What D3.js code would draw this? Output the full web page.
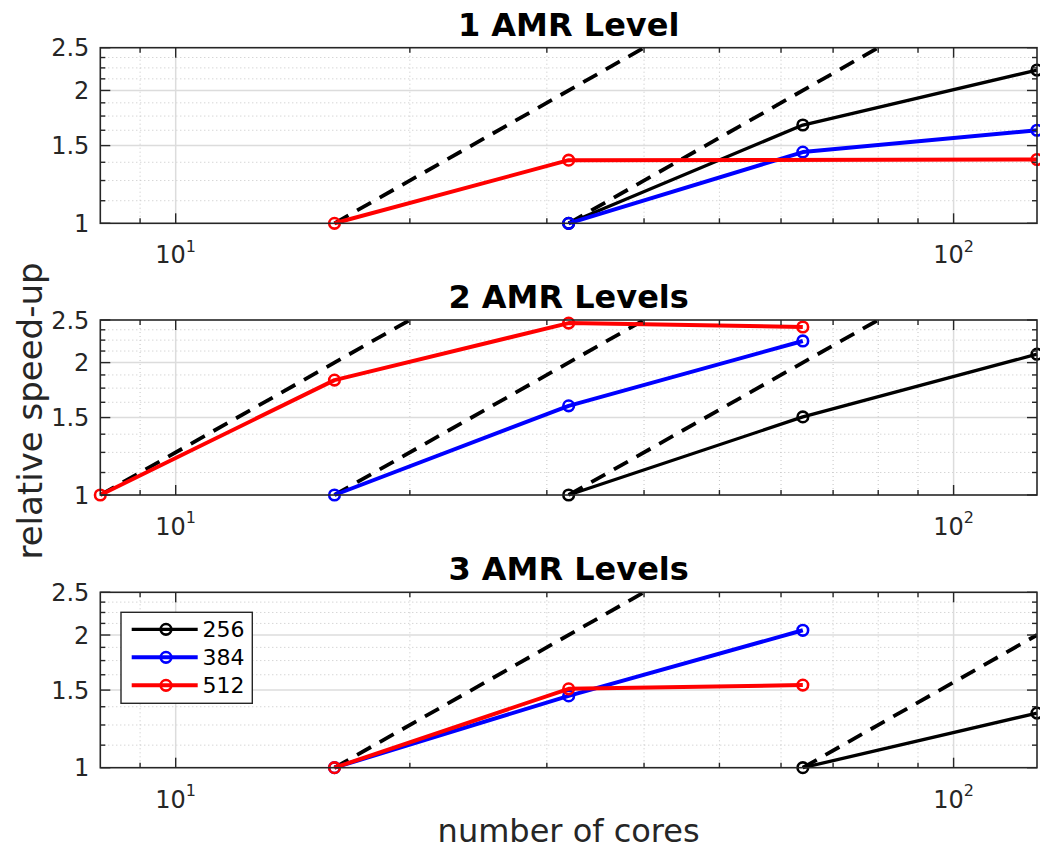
<!DOCTYPE html>
<html>
<head>
<meta charset="utf-8">
<script src="https://cdn.jsdelivr.net/npm/d3@7"></script>
<style>
  html, body { margin: 0; padding: 0; background: #fff; }
  svg { display: block; font-family: "DejaVu Sans", sans-serif; }
</style>
</head>
<body>
<svg id="chart" width="1040" height="850"></svg>
<script>
// Relative speed-up vs. number of cores, one panel per AMR level count
const panelTitles = ["1 AMR Level", "2 AMR Levels", "3 AMR Levels"];
const seriesNames = ["256", "384", "512"];
const seriesColors = ["#000000", "#0000ff", "#ff0000"];

// cores / speed-up per series, per panel
const cores1 = [[32, 64, 128], [32, 64, 128], [16, 32, 128]];
const speedup1 = [[1, 1.67, 2.225], [1, 1.45, 1.625], [1, 1.39, 1.395]];

const cores2 = [[32, 64, 128], [16, 32, 64], [8, 16, 32, 64]];
const speedup2 = [[1, 1.505, 2.09], [1, 1.595, 2.24], [1, 1.825, 2.46, 2.41]];

const cores3 = [[64, 128], [16, 32, 64], [16, 32, 64]];
const speedup3 = [[1, 1.33], [1, 1.455, 2.05], [1, 1.51, 1.54]];

// ideal (linear) speed-up reference lines: [cores], [speed-up]
const idealCores1 = [[16, 40], [32, 80]];
const idealSpeedup1 = [[1, 2.5], [1, 2.5]];
const idealCores2 = [[8, 20], [16, 40], [32, 80]];
const idealSpeedup2 = [[1, 2.5], [1, 2.5], [1, 2.5]];
const idealCores3 = [[16, 40], [64, 128]];
const idealSpeedup3 = [[1, 2.5], [1, 2]];

const xMajorTicks = [10, 100];
const xMinorTicks = [9, 20, 30, 40, 50, 60, 70, 80, 90];
const yMajorTicks = [1, 1.5, 2, 2.5];
const yMinorTicks = [1.125, 1.25, 1.375, 1.625, 1.75, 1.875, 2.125, 2.25, 2.375];
const xDomain = [8, 128];
const yDomain = [1, 2.5];

const panels = [
  { title: panelTitles[0], cores: cores1, speedup: speedup1, idealX: idealCores1, idealY: idealSpeedup1, top: 47.7, bottom: 223.3, legend: false },
  { title: panelTitles[1], cores: cores2, speedup: speedup2, idealX: idealCores2, idealY: idealSpeedup2, top: 320, bottom: 495, legend: false },
  { title: panelTitles[2], cores: cores3, speedup: speedup3, idealX: idealCores3, idealY: idealSpeedup3, top: 592.3, bottom: 767.7, legend: true }
];

const left = 100.3, right = 1037;
const axisColor = "#262626";
const lineWidths = [3.3, 4, 4];
const svg = d3.select("#chart");

const x = d3.scaleLog().domain(xDomain).range([left, right]);

panels.forEach((p, pi) => {
  const y = d3.scaleLog().domain(yDomain).range([p.bottom, p.top]);
  const g = svg.append("g");

  const clipId = "clip" + pi;
  g.append("clipPath").attr("id", clipId)
    .append("rect").attr("x", left).attr("y", p.top)
    .attr("width", right - left).attr("height", p.bottom - p.top);

  // minor grid (dotted)
  g.selectAll(".xminor").data(xMinorTicks).enter().append("line")
    .attr("x1", d => x(d)).attr("x2", d => x(d))
    .attr("y1", p.top).attr("y2", p.bottom)
    .attr("stroke", "#c4c4c4").attr("stroke-width", 1).attr("stroke-dasharray", "1,3");
  g.selectAll(".yminor").data(yMinorTicks).enter().append("line")
    .attr("x1", left).attr("x2", right)
    .attr("y1", d => y(d)).attr("y2", d => y(d))
    .attr("stroke", "#c4c4c4").attr("stroke-width", 1).attr("stroke-dasharray", "1,3");

  // major grid (solid)
  g.selectAll(".xmajor").data(xMajorTicks).enter().append("line")
    .attr("x1", d => x(d)).attr("x2", d => x(d))
    .attr("y1", p.top).attr("y2", p.bottom)
    .attr("stroke", "#dcdcdc").attr("stroke-width", 1.5);
  g.selectAll(".ymajor").data(yMajorTicks.slice(1, -1)).enter().append("line")
    .attr("x1", left).attr("x2", right)
    .attr("y1", d => y(d)).attr("y2", d => y(d))
    .attr("stroke", "#dcdcdc").attr("stroke-width", 1.5);

  // ideal speed-up lines
  const line = d3.line().x(d => x(d[0])).y(d => y(d[1]));
  p.idealX.forEach((xs, k) => {
    g.append("path")
      .attr("d", line(xs.map((c, j) => [c, p.idealY[k][j]])))
      .attr("clip-path", `url(#${clipId})`)
      .attr("fill", "none").attr("stroke", "#000").attr("stroke-width", 3.8)
      .attr("stroke-dasharray", "16,10");
  });

  // measured series
  p.cores.forEach((xs, s) => {
    const pts = xs.map((c, j) => [c, p.speedup[s][j]]);
    g.append("path").attr("d", line(pts))
      .attr("fill", "none").attr("stroke", seriesColors[s])
      .attr("stroke-width", lineWidths[s]).attr("stroke-linejoin", "round");
    g.selectAll(".m" + s).data(pts).enter().append("circle")
      .attr("cx", d => x(d[0])).attr("cy", d => y(d[1])).attr("r", 5.3)
      .attr("fill", "none").attr("stroke", seriesColors[s]).attr("stroke-width", 2.6);
  });

  // axes box
  g.append("rect").attr("x", left).attr("y", p.top)
    .attr("width", right - left).attr("height", p.bottom - p.top)
    .attr("fill", "none").attr("stroke", axisColor).attr("stroke-width", 1.6);

  // ticks on all four sides
  const tickLen = (major) => major ? 10 : 5;
  [[xMajorTicks, true], [xMinorTicks, false]].forEach(([ticks, major]) => {
    ticks.forEach(t => {
      g.append("line").attr("x1", x(t)).attr("x2", x(t))
        .attr("y1", p.bottom).attr("y2", p.bottom - tickLen(major))
        .attr("stroke", axisColor).attr("stroke-width", 1.4);
      g.append("line").attr("x1", x(t)).attr("x2", x(t))
        .attr("y1", p.top).attr("y2", p.top + tickLen(major))
        .attr("stroke", axisColor).attr("stroke-width", 1.4);
    });
  });
  [[yMajorTicks, true], [yMinorTicks, false]].forEach(([ticks, major]) => {
    ticks.forEach(t => {
      g.append("line").attr("x1", left).attr("x2", left + tickLen(major))
        .attr("y1", y(t)).attr("y2", y(t))
        .attr("stroke", axisColor).attr("stroke-width", 1.4);
      g.append("line").attr("x1", right).attr("x2", right - tickLen(major))
        .attr("y1", y(t)).attr("y2", y(t))
        .attr("stroke", axisColor).attr("stroke-width", 1.4);
    });
  });

  // y tick labels
  g.selectAll(".ylab").data(yMajorTicks).enter().append("text")
    .attr("x", left - 11).attr("y", d => y(d)).attr("dy", "0.36em")
    .attr("text-anchor", "end").attr("font-size", 24).attr("fill", axisColor)
    .text(d => d3.format("~g")(d));

  // x tick labels (powers of ten)
  xMajorTicks.forEach(t => {
    const txt = g.append("text").attr("x", x(t)).attr("y", p.bottom + 40)
      .attr("text-anchor", "middle").attr("font-size", 24).attr("fill", axisColor);
    txt.append("tspan").text("10");
    txt.append("tspan").attr("dy", -11.6).attr("font-size", 16).text(Math.round(Math.log10(t)));
  });

  // panel title
  g.append("text").attr("x", (left + right) / 2).attr("y", p.top - 12)
    .attr("text-anchor", "middle").attr("font-size", 32).attr("font-weight", "bold")
    .attr("fill", "#000").text(p.title);

  // legend
  if (p.legend) {
    const lg = g.append("g");
    lg.append("rect").attr("x", 121).attr("y", 612.3).attr("width", 131.3).attr("height", 91)
      .attr("fill", "#fff").attr("stroke", axisColor).attr("stroke-width", 1.4);
    seriesNames.forEach((name, s) => {
      const ly = 629.3 + s * 28;
      lg.append("line").attr("x1", 131.7).attr("x2", 197.7).attr("y1", ly).attr("y2", ly)
        .attr("stroke", seriesColors[s]).attr("stroke-width", lineWidths[s]);
      lg.append("circle").attr("cx", 166).attr("cy", ly).attr("r", 5.3)
        .attr("fill", "none").attr("stroke", seriesColors[s]).attr("stroke-width", 2.6);
      lg.append("text").attr("x", 202.5).attr("y", ly).attr("dy", "0.36em")
        .attr("font-size", 22).attr("fill", "#000").text(name);
    });
  }
});

// shared axis labels
svg.append("text").attr("x", (left + right) / 2).attr("y", 842)
  .attr("text-anchor", "middle").attr("font-size", 32).attr("fill", axisColor)
  .text("number of cores");
svg.append("text")
  .attr("transform", "translate(42,411) rotate(-90)")
  .attr("text-anchor", "middle").attr("font-size", 34).attr("fill", axisColor)
  .text("relative speed-up");
</script>
</body>
</html>
